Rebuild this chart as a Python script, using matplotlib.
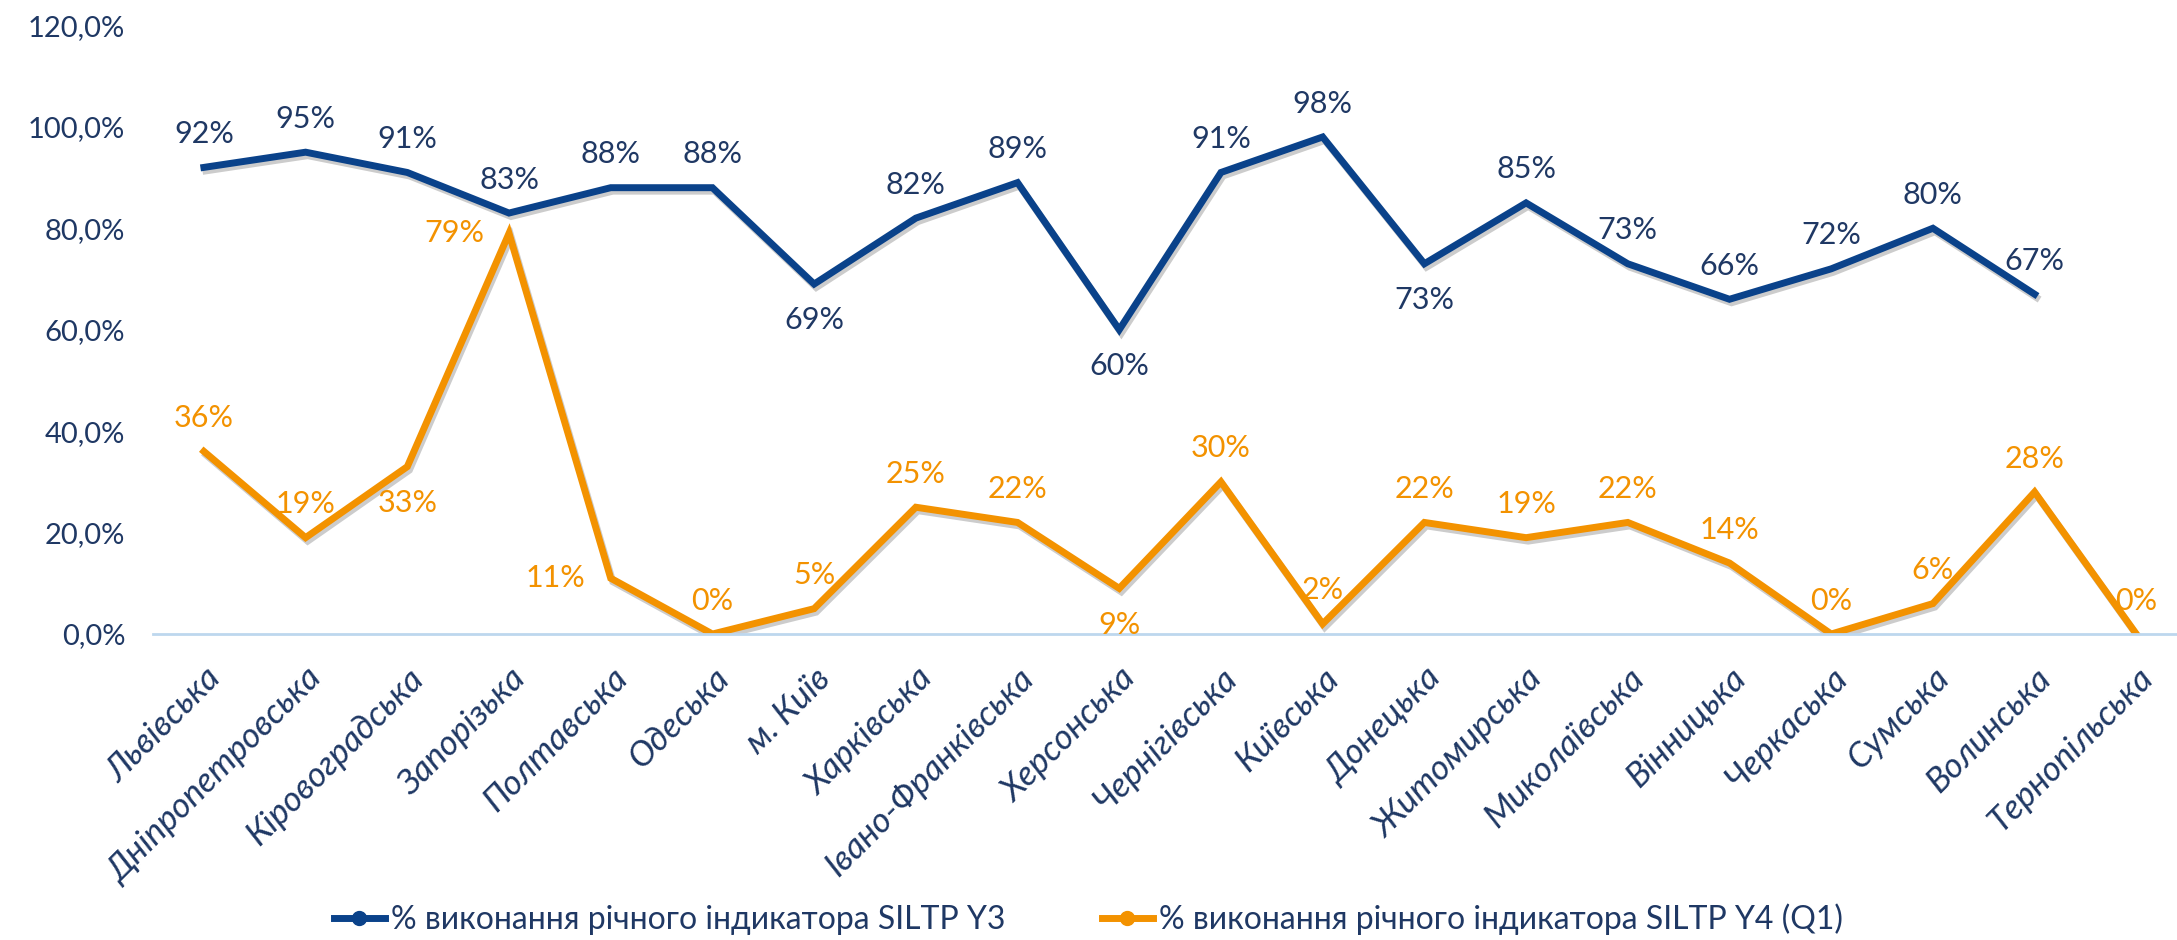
import numpy as np
import matplotlib.pyplot as plt
import matplotlib.patheffects as pe
from matplotlib.ticker import FuncFormatter

plt.rcParams['font.family'] = ['Lato', 'DejaVu Sans']

regions = ['Львівська', 'Дніпропетровська', 'Кіровоградська', 'Запорізька', 'Полтавська',
           'Одеська', 'м. Київ', 'Харківська', 'Івано-Франківська', 'Херсонська',
           'Чернігівська', 'Київська', 'Донецька', 'Житомирська', 'Миколаївська',
           'Вінницька', 'Черкаська', 'Сумська', 'Волинська', 'Тернопільська']
y3 = [92, 95, 91, 83, 88, 88, 69, 82, 89, 60, 91, 98, 73, 85, 73, 66, 72, 80, 67, np.nan]
y4 = [36, 19, 33, 79, 11, 0, 5, 25, 22, 9, 30, 2, 22, 19, 22, 14, 0, 6, 28, 0]
# label placement: 'a' above, 'b' below, 'l' left
y3_pos = ['a'] * 6 + ['b', 'a', 'a', 'b', 'a', 'a', 'b'] + ['a'] * 6
y4_pos = ['a', 'a', 'b', 'l', 'l', 'a', 'a', 'a', 'a', 'b'] + ['a'] * 10

BLUE = '#0A428A'
ORANGE = '#F39200'
TEXT = '#1F3864'

fig = plt.figure(figsize=(21.77, 9.4), dpi=100)
ax = fig.add_axes([0.0703, 0.3255, 0.9297, 0.6475])

x = np.arange(len(regions))
shadow = [pe.SimpleLineShadow(offset=(1.5, -2.5), alpha=0.2, shadow_color='k'), pe.Normal()]
ax.plot(x, y3, color=BLUE, lw=5, solid_joinstyle='miter',
        label='% виконання річного індикатора SILTP Y3', path_effects=shadow)
ax.plot(x, y4, color=ORANGE, lw=5, solid_joinstyle='miter',
        label='% виконання річного індикатора SILTP Y4 (Q1)', path_effects=shadow)

def put(vals, where, color):
    for i, (v, p) in enumerate(zip(vals, where)):
        if np.isnan(v):
            continue
        if p == 'a':
            off, ha, va = (0, 14), 'center', 'bottom'
        elif p == 'b':
            off, ha, va = (0, -16), 'center', 'top'
        else:
            off, ha, va = (-18, 0), 'right', 'center'
        ax.annotate(f'{v:.0f}%', (i, v), xytext=off, textcoords='offset points',
                    ha=ha, va=va, fontsize=22, color=color)

put(y3, y3_pos, TEXT)
put(y4, y4_pos, ORANGE)

ax.set_xlim(-0.5, 19.4)
ax.set_ylim(0, 120)
ax.set_yticks(np.arange(0, 121, 20))
ax.yaxis.set_major_formatter(FuncFormatter(lambda v, p: f'{v:.1f}%'.replace('.', ',')))
for s in ['top', 'right', 'left']:
    ax.spines[s].set_visible(False)
ax.spines['bottom'].set_color('#BDD7EE')
ax.spines['bottom'].set_linewidth(2)
ax.tick_params(axis='both', length=0, labelsize=21, colors=TEXT)
ax.tick_params(axis='y', pad=20)
ax.tick_params(axis='x', pad=20)
ax.set_xticks(x)
ax.set_xticklabels(regions, rotation=45, ha='right', rotation_mode='anchor',
                   fontstyle='italic', fontsize=25, color=TEXT)

handles = [plt.Line2D([], [], color=BLUE, lw=5, marker='o', markersize=10),
           plt.Line2D([], [], color=ORANGE, lw=5, marker='o', markersize=10)]
leg = fig.legend(handles, ['% виконання річного індикатора SILTP Y3',
                           '% виконання річного індикатора SILTP Y4 (Q1)'],
                 loc='center', bbox_to_anchor=(0.5, 0.022), ncol=2, frameon=False,
                 fontsize=23, handlelength=1.6, handletextpad=0.2, columnspacing=3)
for t in leg.get_texts():
    t.set_color(TEXT)

fig.savefig('out.png', dpi=100)
